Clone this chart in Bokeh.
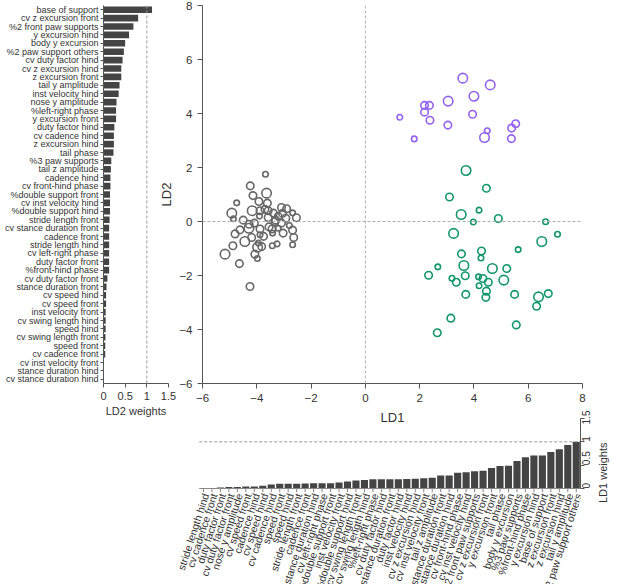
import math
from bokeh.plotting import figure
from bokeh.layouts import column, row
from bokeh.models import Range1d, FactorRange, Span, ColumnDataSource, FixedTicker
from bokeh.core.properties import value
from bokeh.embed import file_html
from bokeh.resources import INLINE

FONT = "Liberation Sans"
TXT = "#333333"
AX = "#555555"
BAR = "#444444"

# ---- LD2 weights (left panel, top to bottom) ----
ld2_features = [
    "base of support", "cv z excursion front", "%2 front paw supports", "y excursion hind",
    "body y excursion", "%2 paw support others", "cv duty factor hind", "cv z excursion hind",
    "z excursion front", "tail y amplitude", "inst velocity hind", "nose y amplitude",
    "%left-right phase", "y excursion front", "duty factor hind", "cv cadence hind",
    "z excursion hind", "tail phase", "%3 paw supports", "tail z amplitude", "cadence hind",
    "cv front-hind phase", "%double support front", "cv inst velocity hind",
    "%double support hind", "stride length front", "cv stance duration front", "cadence front",
    "stride length hind", "cv left-right phase", "duty factor front", "%front-hind phase",
    "cv duty factor front", "stance duration front", "cv speed hind", "cv speed front",
    "inst velocity front", "cv swing length hind", "speed hind", "cv swing length front",
    "speed front", "cv cadence front", "cv inst velocity front", "stance duration hind",
    "cv stance duration hind",
]
ld2_weights = [
    1.12, 0.80, 0.69, 0.59, 0.50, 0.47, 0.44, 0.41, 0.41, 0.37, 0.35, 0.30, 0.29, 0.29,
    0.25, 0.24, 0.24, 0.23, 0.18, 0.17, 0.16, 0.16, 0.15, 0.15, 0.15, 0.14, 0.13, 0.13,
    0.13, 0.13, 0.13, 0.13, 0.09, 0.07, 0.06, 0.06, 0.05, 0.05, 0.05, 0.045, 0.04, 0.04,
    0.01, 0.005, 0.002,
]

# ---- LD1 weights (bottom panel, left to right) ----
ld1_features = [
    "stride length hind", "cv cadence front", "duty factor front", "cv duty factor front",
    "nose y amplitude", "cv speed front", "cadence hind", "cv speed hind", "cv cadence hind",
    "speed front", "speed hind", "stride length front", "cadence front",
    "cv stance duration hind", "cv left-right phase", "%double support front",
    "inst velocity front", "%double support hind", "cv swing length front",
    "cv swing length hind", "%left-right phase", "cv duty factor hind",
    "cv stance duration front", "duty factor hind", "inst velocity hind",
    "cv z excursion hind", "cv inst velocity front", "tail z amplitude",
    "stance duration front", "stance duration hind", "cv front-hind phase",
    "cv inst velocity hind", "%2 front paw supports", "cv z excursion front",
    "y excursion front", "tail phase", "body y excursion", "%3 paw supports",
    "%front-hind phase", "y excursion hind", "base of support", "z excursion front",
    "z excursion hind", "tail y amplitude", "%2 paw support others",
]
ld1_weights = [
    0.003, 0.006, 0.02, 0.035, 0.035, 0.043, 0.043, 0.057, 0.086, 0.10, 0.10, 0.10, 0.107,
    0.114, 0.114, 0.114, 0.13, 0.15, 0.17, 0.18, 0.20, 0.20, 0.20, 0.20, 0.205, 0.21, 0.22,
    0.23, 0.28, 0.28, 0.34, 0.35, 0.37, 0.38, 0.44, 0.48, 0.49, 0.59, 0.67, 0.71, 0.71,
    0.78, 0.84, 0.93, 1.00,
]

# ---- LD scores (scatter), size class 1 small, 2 medium, 3 large ----
gray_ld1 = [-3.68, -4.24, -3.64, -4.14, -4.74, -3.92, -3.61, -3.09, -2.90, -4.17, -3.88, -3.58,
            -3.39, -2.68, -4.92, -4.86, -3.58, -3.21, -2.93, -2.54, -4.28, -4.09, -3.09, -4.62,
            -4.29, -3.88, -3.44, -3.21, -2.68, -4.80, -4.19, -3.88, -3.42, -3.03, -2.64, -4.44,
            -3.94, -3.82, -4.88, -3.97, -3.43, -3.25, -2.68, -5.17, -4.07, -3.98, -4.64, -4.25,
            -3.70, -3.30, -3.55, -3.90, -4.50, -3.05, -2.80, -3.75, -3.33]
gray_ld2 = [1.75, 1.32, 1.05, 0.96, 0.69, 0.74, 0.68, 0.52, 0.47, 0.40, 0.40, 0.40,
            0.31, 0.32, 0.31, 0.10, 0.15, 0.19, 0.12, 0.14, -0.10, -0.06, -0.06, -0.31,
            -0.25, -0.28, -0.28, -0.25, -0.32, -0.46, -0.59, -0.49, -0.43, -0.43, -0.59, -0.74,
            -0.80, -0.93, -0.90, -0.95, -0.90, -0.83, -0.86, -1.21, -1.21, -1.37, -1.56, -2.41,
            0.45, 0.05, -0.20, 0.20, 0.05, 0.30, -0.15, -0.55, 0.00]
gray_size = [1, 2, 3, 2, 1, 2, 2, 2, 2, 3, 2, 2,
             2, 1, 3, 1, 2, 2, 2, 2, 2, 2, 2, 2,
             3, 2, 2, 1, 2, 2, 2, 1, 1, 2, 2, 3,
             1, 2, 2, 3, 1, 1, 1, 3, 2, 1, 2, 2,
             2, 2, 2, 1, 2, 2, 1, 2, 2]

purple_ld1 = [3.59, 4.60, 4.00, 3.05, 2.18, 2.36, 2.18, 1.27, 2.38, 3.95, 3.04, 5.54, 5.39,
              4.49, 4.39, 5.38, 1.80]
purple_ld2 = [5.31, 5.06, 4.64, 4.46, 4.30, 4.30, 4.05, 3.86, 3.75, 3.97, 3.57, 3.62, 3.46,
              3.36, 3.11, 3.07, 3.06]
purple_size = [3, 3, 3, 3, 2, 2, 2, 1, 2, 2, 2, 2, 2, 1, 3, 2, 1]

green_ld1 = [3.71, 4.46, 3.10, 4.19, 3.53, 3.98, 4.90, 6.64, 7.08, 3.25, 6.50, 5.63, 4.28,
             3.54, 4.26, 2.67, 3.63, 4.68, 5.21, 2.33, 3.68, 3.19, 3.35, 4.17, 4.33, 4.53,
             5.10, 4.19, 4.46, 4.44, 3.70, 5.50, 6.38, 6.74, 6.31, 3.15, 5.56, 2.65]
green_ld2 = [1.89, 1.23, 0.91, 0.42, 0.26, -0.02, 0.11, -0.01, -0.47, -0.44, -0.74, -1.04,
             -1.09, -1.20, -1.35, -1.68, -1.63, -1.74, -1.74, -1.99, -2.01, -2.10, -2.25,
             -2.05, -2.11, -2.25, -2.17, -2.38, -2.58, -2.81, -2.70, -2.70, -2.79, -2.67,
             -3.14, -3.58, -3.83, -4.12]
green_size = [3, 2, 2, 1, 3, 1, 2, 1, 1, 3, 3, 1, 2, 2, 1, 1, 3, 3, 2, 2, 2, 1, 2, 1, 2, 2,
              3, 1, 2, 2, 2, 2, 3, 2, 2, 2, 2, 2]

scatter_ticks = [-6, -4, -2, 0, 2, 4, 6, 8]
weight_ticks = [0, 0.5, 1, 1.5]

SIZE_PX = {1: 5.5, 2: 7.5, 3: 9.5}


def style_axis(ax, size="11px"):
    ax.axis_line_color = AX
    ax.major_tick_line_color = AX
    ax.minor_tick_line_color = None
    ax.major_tick_in = 0
    ax.major_tick_out = 4
    ax.major_label_text_font = FONT
    ax.major_label_text_color = TXT
    ax.major_label_text_font_size = size
    ax.axis_label_text_font = FONT
    ax.axis_label_text_color = TXT
    ax.axis_label_text_font_style = "normal"


def clean(p):
    p.grid.visible = False
    p.outline_line_color = None
    p.background_fill_color = None
    p.border_fill_color = None


# ---------------- left panel ----------------
left = figure(width=178, height=427, y_range=FactorRange(*reversed(ld2_features)),
              x_range=Range1d(0, 1.5), output_backend="svg", toolbar_location=None,
              min_border_left=103, min_border_right=10, min_border_top=5, min_border_bottom=43)
left.hbar(y=ld2_features, right=ld2_weights, left=0, height=0.78, fill_color=BAR,
          line_color=None)
left.add_layout(Span(location=1, dimension="height", line_color="#999999",
                     line_dash="3 2", line_width=1))
style_axis(left.xaxis[0], "11px")
style_axis(left.yaxis[0], "9px")
left.yaxis.major_tick_out = 3
left.yaxis.major_label_standoff = 2
left.xaxis.ticker = FixedTicker(ticks=weight_ticks)
left.xaxis.axis_label = "LD2 weights"
left.xaxis.axis_label_text_font_size = "11px"
left.xaxis.axis_label_standoff = 2
left.xaxis.major_label_standoff = 4
clean(left)

# ---------------- scatter ----------------
sc = figure(width=457, height=427, x_range=Range1d(-6, 8), y_range=Range1d(-6, 8),
            output_backend="svg", toolbar_location=None,
            min_border_left=50, min_border_right=27, min_border_top=5, min_border_bottom=43)
sc.margin = (0, 0, 0, -26)
sc.add_layout(Span(location=0, dimension="height", line_color="#b0b0b0",
                   line_dash="3 2", line_width=1))
sc.add_layout(Span(location=0, dimension="width", line_color="#b0b0b0",
                   line_dash="3 2", line_width=1))
for xs, ys, ss, col in [(gray_ld1, gray_ld2, gray_size, "#676767"),
                        (purple_ld1, purple_ld2, purple_size, "#9362ee"),
                        (green_ld1, green_ld2, green_size, "#12966b")]:
    src = ColumnDataSource(dict(x=xs, y=ys, s=[SIZE_PX[k] for k in ss]))
    sc.scatter("x", "y", size="s", source=src, marker="circle", fill_color=None,
               line_color=col, line_width=1.6)
style_axis(sc.xaxis[0], "11.5px")
style_axis(sc.yaxis[0], "11.5px")
sc.xaxis.ticker = FixedTicker(ticks=scatter_ticks)
sc.yaxis.ticker = FixedTicker(ticks=scatter_ticks)
sc.xaxis.major_tick_out = 5
sc.yaxis.major_tick_out = 5
sc.xaxis.axis_label = "LD1"
sc.yaxis.axis_label = "LD2"
sc.xaxis.axis_label_text_font_size = "13px"
sc.yaxis.axis_label_text_font_size = "13px"
sc.xaxis.axis_label_standoff = 5
sc.yaxis.axis_label_standoff = 2
clean(sc)

# ---------------- bottom panel ----------------
n1 = len(ld1_features)
pos = [i + 0.5 for i in range(n1)]          # category slots along the axis
bot = figure(width=617, height=177, x_range=Range1d(-2.8, n1),
             y_range=Range1d(-2.12, 1.5), y_axis_location="right", x_axis_location=None,
             output_backend="svg", toolbar_location=None,
             min_border_left=175, min_border_right=33, min_border_top=8, min_border_bottom=0)
bot.margin = (-17, 0, 0, 0)
bsrc = ColumnDataSource(dict(x=pos, top=ld1_weights, name=ld1_features))
bot.vbar(x="x", top="top", bottom=0, width=0.84, source=bsrc, fill_color=BAR,
         line_color=None)
# baseline, category ticks and reference line at weight 1
bot.segment(x0=[0], x1=[n1], y0=[0], y1=[0], line_color="#888888", line_width=1)
bot.segment(x0="x", x1="x", y0=0, y1=-0.08, source=bsrc, line_color="#888888",
            line_width=1)
bot.segment(x0=[0], x1=[n1], y0=[1], y1=[1], line_color="#999999", line_dash="3 2",
            line_width=1)
bot.text(x="x", y=-0.11, text="name", source=bsrc, angle=72, angle_units="deg",
         text_align="right", text_baseline="middle", text_font=value(FONT),
         text_font_size="10.5px", text_color=TXT, x_offset=2)
style_axis(bot.yaxis[0], "10px")
bot.yaxis.bounds = (0, 1.5)
bot.yaxis.ticker = FixedTicker(ticks=weight_ticks)
bot.yaxis.major_label_orientation = math.pi / 2
bot.yaxis.major_label_standoff = 2
bot.yaxis.axis_label = "LD1 weights"
bot.yaxis.axis_label_orientation = math.pi / 2
bot.yaxis.axis_label_text_font_size = "11px"
bot.yaxis.axis_label_standoff = 5
clean(bot)

layout = column(row(left, sc), bot)
open("out.html", "w").write(file_html(layout, INLINE))
